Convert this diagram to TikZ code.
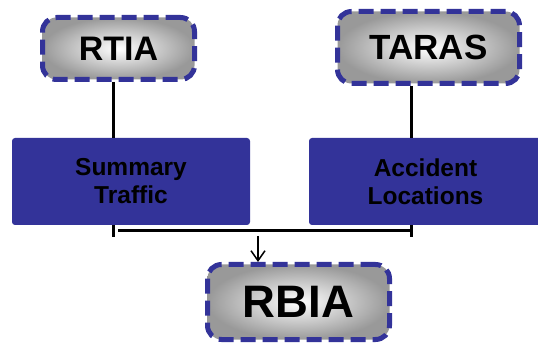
\documentclass[tikz,border=0pt]{standalone}
\usepackage{fontspec}
\setmainfont{Liberation Sans}
\usetikzlibrary{arrows.meta}
\definecolor{navy}{HTML}{333399}
\begin{document}
\begin{tikzpicture}[x=1pt,y=-1pt,
  term/.style={draw=navy, line width=5pt, dash pattern=on 15pt off 7pt,
    rounded corners=14pt, inner color=white, outer color=gray!80,
    inner sep=0pt, font=\bfseries},
  proc/.style={fill=navy, rounded corners=3pt, inner sep=0pt,
    minimum height=87pt, align=center,
    font=\bfseries\fontsize{24.5}{28}\selectfont},
  conn/.style={line width=3pt}]
\useasboundingbox (0,0) rectangle (538,347);
\node[term, minimum width=152pt, minimum height=62pt, font=\bfseries\fontsize{34}{40}\selectfont] (rtia) at (118.5,48.5) {RTIA};
\node[term, minimum width=182pt, minimum height=72pt, font=\bfseries\fontsize{35}{40}\selectfont] (taras) at (428.5,47.5) {TARAS};
\node[term, minimum width=182pt, minimum height=75pt, font=\bfseries\fontsize{45.5}{50}\selectfont] (rbia) at (298.5,302) {RBIA};
\node[proc, minimum width=238pt] (sum) at (131,181.5) {Summary\\Traffic};
\node[proc, minimum width=233pt] (acc) at (425.5,181.5) {Accident\\Locations};
\coordinate (lbot) at (113,237);
\coordinate (barl) at (118,231);
\coordinate (barr) at (413,231);
\coordinate (rtop) at (411,225);
\coordinate (rbot) at (411,237);
\coordinate (arrs) at (258,236);
\draw[conn] ([xshift=-5.5pt]rtia.south) -- ([xshift=-5.5pt]rtia.south |- sum.north);
\draw[conn] ([xshift=-17.5pt]taras.south) -- ([xshift=-17.5pt]taras.south |- acc.north);
\draw[conn] (sum.south -| lbot) -- (lbot);
\draw[conn] (barl) -- (barr);
\draw[conn] (rtop) -- (rbot);
\draw[line width=1.5pt, -{Straight Barb[length=10pt,width=14pt]}] (arrs) -- (arrs |- rbia.north);
\end{tikzpicture}
\end{document}
